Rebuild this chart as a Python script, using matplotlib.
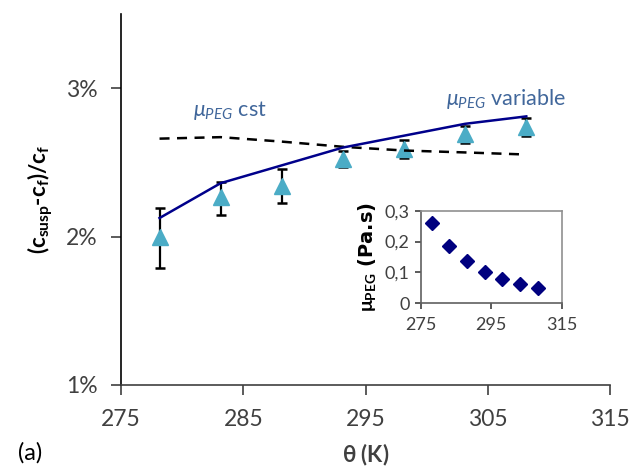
import matplotlib
matplotlib.use("Agg")
import matplotlib.pyplot as plt
from matplotlib.ticker import FuncFormatter

plt.rcParams['font.family'] = ['Lato', 'DejaVu Sans']
plt.rcParams['mathtext.fontset'] = 'custom'
plt.rcParams['mathtext.rm'] = 'Lato'
plt.rcParams['mathtext.it'] = 'Lato:italic'
plt.rcParams['mathtext.bf'] = 'Lato:bold'

# ---- data ----
theta = [278.15, 283.15, 288.15, 293.15, 298.15, 303.15, 308.15]
exp_vals = [2.00, 2.27, 2.34, 2.52, 2.59, 2.69, 2.74]
err_hi = [2.19, 2.37, 2.455, 2.578, 2.65, 2.746, 2.80]
err_lo = [1.79, 2.145, 2.225, 2.468, 2.53, 2.63, 2.68]
mu_var = [2.125, 2.36, 2.48, 2.60, 2.68, 2.76, 2.81]
mu_cst = [2.66, 2.67, 2.64, 2.605, 2.58, 2.567, 2.553]
visc = [0.26, 0.185, 0.138, 0.103, 0.080, 0.062, 0.050]
main_xticks = [275, 285, 295, 305, 315]
main_yticks = [1, 2, 3]
inset_xticks = [275, 295, 315]
inset_yticks = [0, 0.1, 0.2, 0.3]

tick_col = '#404040'
txt_col = '#41679B'

fig = plt.figure(figsize=(6.34, 4.74), dpi=100)
ax = fig.add_axes([0.1909, 0.1878, 0.7713, 0.7827])

yerr = [[v - l for v, l in zip(exp_vals, err_lo)], [h - v for v, h in zip(exp_vals, err_hi)]]
ax.errorbar(theta, exp_vals, yerr=yerr, fmt='none', ecolor='black', elinewidth=1.6,
            capsize=3.3, capthick=1.8, zorder=2)
ax.plot(theta, exp_vals, linestyle='none', marker='^', markersize=11,
        color='#4BACC6', zorder=3)
ax.plot(theta, mu_cst, color='black', linestyle=(0, (4, 3)), linewidth=1.8, zorder=4)
ax.plot(theta, mu_var, color='#00008B', linewidth=1.8, zorder=5)

ax.text(280.9, 2.81, r'$\mu_{PEG}$ cst', color=txt_col, fontsize=15.5, ha='left', va='baseline')
ax.text(301.6, 2.885, r'$\mu_{PEG}$ variable', color=txt_col, fontsize=15.5, ha='left', va='baseline')

ax.set_xlim(275, 315)
ax.set_ylim(1, 3.5)
ax.set_xticks(main_xticks)
ax.set_yticks(main_yticks)
ax.yaxis.set_major_formatter(FuncFormatter(lambda v, p: f'{int(round(v))}%'))
for s in ['top', 'right']:
    ax.spines[s].set_visible(False)
ax.spines['left'].set_color('black')
ax.spines['bottom'].set_color(tick_col)
ax.spines['left'].set_linewidth(1.2)
ax.spines['bottom'].set_linewidth(1.2)
ax.tick_params(axis='both', direction='out', length=7, width=1.2, colors=tick_col,
               labelsize=16.5, pad=10)
ax.tick_params(axis='x', pad=10)
ax.set_xlabel(r'$\mathbf{\theta}$ (K)', fontsize=16, fontweight='bold', color='#404040', labelpad=9)
ax.set_ylabel(r'$\mathbf{(c_{susp}}$-$\mathbf{c_{f})/c_{f}}$', fontsize=16, fontweight='bold',
              color='black', labelpad=8)
fig.text(0.028, 0.03, '(a)', fontsize=17, color='black')

# ---- inset ----
axi = fig.add_axes([0.6636, 0.360, 0.2224, 0.1954])
axi.plot(theta, visc, linestyle='none', marker='D', markersize=7.5, color='#00007F')
axi.set_xlim(275, 315)
axi.set_ylim(0, 0.3)
axi.set_xticks(inset_xticks)
axi.set_yticks(inset_yticks)
axi.yaxis.set_major_formatter(FuncFormatter(lambda v, p: '0' if abs(v) < 1e-9 else f'{v:.1f}'.replace('.', ',')))
for s in ['top', 'right']:
    axi.spines[s].set_color('#909090')
for s in ['left', 'bottom']:
    axi.spines[s].set_color('#606060')
for s in axi.spines.values():
    s.set_linewidth(1.2)
axi.tick_params(axis='both', direction='out', length=4, width=1.2, colors='#404040',
                labelsize=13, pad=4)
axi.tick_params(axis='x', pad=6)
axi.set_ylabel(r'$\mathbf{\mu_{PEG}}$ (Pa.s)', fontsize=14, fontweight='bold',
               family=['DejaVu Sans'], labelpad=5)

fig.savefig('out.png', dpi=100)
